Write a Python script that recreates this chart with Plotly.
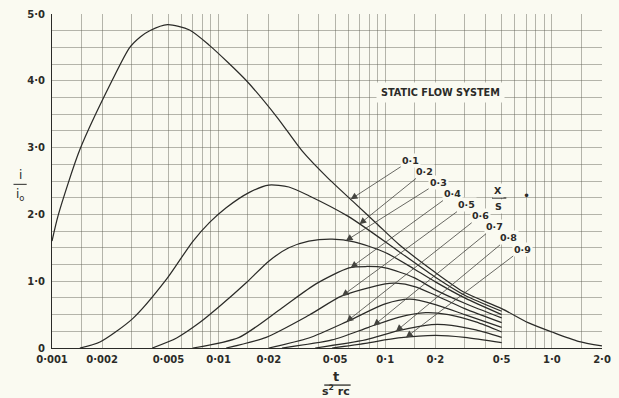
import numpy as np
import plotly.graph_objects as go

# ---- data: current ratio i/i0 against t/(s^2 rc), one curve per x/s ----
ratios = ["0·1", "0·2", "0·3", "0·4", "0·5", "0·6", "0·7", "0·8", "0·9"]

t_01 = [0.001, 0.00109, 0.00147, 0.00229, 0.00293, 0.0034, 0.00386, 0.00494, 0.00669, 0.00881,
        0.0147, 0.0225, 0.0317, 0.045, 0.0649, 0.09, 0.121, 0.2, 0.3, 0.5, 0.72, 1.0, 1.44, 2.0]
i_01 = [1.60, 1.99, 2.97, 4.0, 4.5, 4.66, 4.75, 4.84, 4.76, 4.53,
        4.0, 3.45, 2.95, 2.55, 2.18, 1.85, 1.55, 1.13, 0.83, 0.59, 0.38, 0.24, 0.10, 0.03]

t_02 = [0.00147, 0.00194, 0.00305, 0.00487, 0.00697, 0.00883, 0.0111, 0.0153, 0.02, 0.0264,
        0.0348, 0.06, 0.12, 0.2, 0.3, 0.5]
i_02 = [0.0, 0.09, 0.44, 1.03, 1.59, 1.88, 2.10, 2.33, 2.44, 2.41,
        2.28, 1.97, 1.45, 1.06, 0.79, 0.55]

t_03 = [0.0040, 0.0056, 0.0077, 0.0101, 0.0147, 0.02, 0.0264, 0.0348, 0.048, 0.065,
        0.1, 0.15, 0.2, 0.3, 0.5]
i_03 = [0.0, 0.15, 0.38, 0.62, 0.98, 1.30, 1.50, 1.60, 1.63, 1.59,
        1.43, 1.18, 0.99, 0.75, 0.50]

t_04 = [0.0070, 0.0133, 0.024, 0.0384, 0.0606, 0.0763, 0.1, 0.15, 0.2, 0.3, 0.5]
i_04 = [0.0, 0.16, 0.60, 0.96, 1.20, 1.22, 1.20, 1.05, 0.87, 0.67, 0.45]

t_05 = [0.0111, 0.0193, 0.0348, 0.055, 0.1, 0.116, 0.15, 0.2, 0.3, 0.5]
i_05 = [0.0, 0.16, 0.49, 0.78, 0.96, 0.97, 0.92, 0.79, 0.59, 0.38]

t_06 = [0.02, 0.0348, 0.0606, 0.1, 0.14, 0.2, 0.3, 0.5]
i_06 = [0.0, 0.15, 0.41, 0.66, 0.73, 0.65, 0.50, 0.31]

t_07 = [0.024, 0.048, 0.0795, 0.12, 0.175, 0.24, 0.35, 0.5]
i_07 = [0.0, 0.12, 0.31, 0.46, 0.53, 0.50, 0.39, 0.24]

t_08 = [0.038, 0.076, 0.12, 0.19, 0.25, 0.35, 0.5]
i_08 = [0.0, 0.12, 0.26, 0.35, 0.34, 0.27, 0.16]

t_09 = [0.048, 0.076, 0.12, 0.2, 0.3, 0.5]
i_09 = [0.0, 0.07, 0.15, 0.19, 0.16, 0.08]

series_t = [t_01, t_02, t_03, t_04, t_05, t_06, t_07, t_08, t_09]
series_i = [i_01, i_02, i_03, i_04, i_05, i_06, i_07, i_08, i_09]

# point along each curve where its leader arrow lands
arrow_t = [0.062, 0.070, 0.058, 0.062, 0.055, 0.0585, 0.085, 0.116, 0.133]

# axis ticks
x_grid = []
for dec in [0.001, 0.01, 0.1, 1.0]:
    for m in [1, 1.5, 2, 3, 4, 5, 6, 7, 8, 9]:
        v = round(dec * m, 6)
        if v <= 2.0:
            x_grid.append(v)
x_labels = {0.001: "0·001", 0.002: "0·002", 0.005: "0·005", 0.01: "0·01", 0.02: "0·02",
            0.05: "0·05", 0.1: "0·1", 0.2: "0·2", 0.5: "0·5", 1.0: "1·0", 2.0: "2·0"}
y_grid = [k * 0.25 for k in range(21)]
y_labels = {0.0: "0", 1.0: "1·0", 2.0: "2·0", 3.0: "3·0", 4.0: "4·0", 5.0: "5·0"}

# ---- styling ----
PAPER = "#fafaf1"
INK = "#2b2b28"
GRID = "rgba(95,95,85,0.45)"
FONT = "DejaVu Sans"


def txt(size, bold=True):
    return dict(family=FONT, size=size, color=INK, weight="bold" if bold else "normal")


fig = go.Figure()
for name, tt, ii in zip(ratios, series_t, series_i):
    fig.add_trace(go.Scatter(
        x=tt, y=ii, mode="lines", name=name,
        line=dict(color=INK, width=1.25, shape="spline", smoothing=0.7),
        showlegend=False, hoverinfo="skip"))

# leader lines from the x/s labels to their curves
lab_x0, lab_dx = -0.847, 0.0838
lab_y0, lab_dy = 2.81, -0.166
for k, (name, tt, ii, ta) in enumerate(zip(ratios, series_t, series_i, arrow_t)):
    ya = float(np.interp(np.log10(ta), np.log10(tt), ii))
    fig.add_annotation(
        x=np.log10(ta), y=ya, xref="x", yref="y",
        ax=lab_x0 + lab_dx * k, ay=lab_y0 + lab_dy * k, axref="x", ayref="y",
        text=name, showarrow=True, arrowhead=2, arrowsize=1.7, arrowwidth=0.8,
        arrowcolor="#44443f", standoff=0, startstandoff=0,
        font=txt(9.5), bgcolor=PAPER, borderpad=1)

# x/s key
fig.add_annotation(x=np.log10(0.478), y=2.36, xref="x", yref="y", text="X", showarrow=False,
                   xanchor="center", yanchor="middle", font=txt(9.5), bgcolor=PAPER)
fig.add_annotation(x=np.log10(0.478), y=2.12, xref="x", yref="y", text="S", showarrow=False,
                   xanchor="center", yanchor="middle", font=txt(9.5), bgcolor=PAPER)
fig.add_shape(type="line", xref="paper", yref="y", x0=0.800, x1=0.826, y0=2.245, y1=2.245,
              line=dict(color=INK, width=1.2))
fig.add_annotation(x=np.log10(0.70), y=2.27, xref="x", yref="y", text="•", showarrow=False,
                   xanchor="center", yanchor="middle", font=txt(12, False))

fig.add_annotation(x=np.log10(0.215), y=3.82, xref="x", yref="y", text="STATIC FLOW SYSTEM",
                   showarrow=False, bgcolor=PAPER, borderpad=4,
                   xanchor="center", yanchor="middle", font=txt(9.7))

# axis titles written as fractions
fig.add_annotation(x=-0.058, y=0.518, xref="paper", yref="paper", text="i", showarrow=False,
                   xanchor="center", yanchor="middle", font=txt(12, False))
fig.add_shape(type="line", xref="paper", yref="paper", x0=-0.070, x1=-0.046, y0=0.49, y1=0.49,
              line=dict(color=INK, width=1))
fig.add_annotation(x=-0.058, y=0.458, xref="paper", yref="paper", text="i<sub>o</sub>",
                   showarrow=False, xanchor="center", yanchor="middle", font=txt(12, False))

fig.add_annotation(x=0.517, y=-0.085, xref="paper", yref="paper", text="t", showarrow=False,
                   xanchor="center", yanchor="middle", font=txt(13))
fig.add_shape(type="line", xref="paper", yref="paper", x0=0.495, x1=0.543, y0=-0.111, y1=-0.111,
              line=dict(color=INK, width=1.3))
fig.add_annotation(x=0.517, y=-0.126, xref="paper", yref="paper", text="s<sup>2</sup> rc",
                   showarrow=False, xanchor="center", yanchor="middle", font=txt(11))

fig.update_xaxes(
    type="log", range=[-3, np.log10(2.0)],
    tickmode="array", tickvals=x_grid,
    ticktext=[x_labels.get(v, "") for v in x_grid],
    showgrid=True, gridcolor=GRID, gridwidth=0.8,
    ticks="", showline=True, linecolor=INK, linewidth=1.2, zeroline=False,
    tickfont=txt(10), ticklabelstandoff=2)
fig.update_yaxes(
    range=[0, 5.0],
    tickmode="array", tickvals=y_grid,
    ticktext=[y_labels.get(v, "") for v in y_grid],
    showgrid=True, gridcolor=GRID, gridwidth=0.8,
    ticks="", showline=True, linecolor=INK, linewidth=1.2, zeroline=False,
    tickfont=txt(10), ticklabelstandoff=4)

fig.update_layout(
    width=619, height=398,
    margin=dict(l=52, r=15, t=8, b=50),
    paper_bgcolor=PAPER, plot_bgcolor=PAPER,
    showlegend=False)

fig.write_html("out.html")
